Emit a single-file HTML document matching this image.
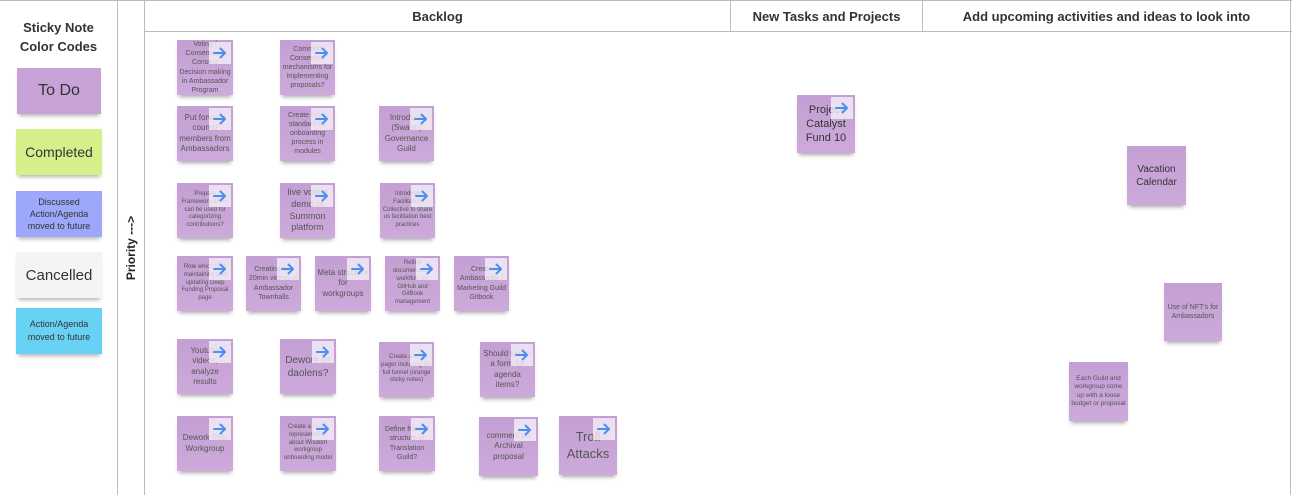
<!DOCTYPE html>
<html><head><meta charset="utf-8"><style>
body{margin:0;width:1292px;height:495px;background:#fff;position:relative;overflow:hidden;font-family:"Liberation Sans","DejaVu Sans",sans-serif;color:#333}
.l{position:absolute;background:#bbb}
.h{position:absolute;top:2px;height:30px;line-height:30px;text-align:center;font-weight:bold;font-size:13px;color:#333}
.n{position:absolute;background:linear-gradient(#c39fd3,#cdaadb);box-shadow:0 4px 4px -2px rgba(0,0,0,.35);display:flex;align-items:center;justify-content:center;text-align:center;font-size:7px;line-height:1.3;color:#555;padding:2px;box-sizing:border-box;overflow:hidden}
.a{position:absolute;top:2px;right:2px;width:22px;height:22px;background:rgba(245,240,248,.8)}
.a svg{position:absolute;left:3px;top:3px}
.g{position:absolute;display:flex;align-items:center;justify-content:center;text-align:center;box-shadow:0 4px 4px -2px rgba(0,0,0,.3);color:#333}
</style></head><body>
<svg width="0" height="0" style="position:absolute"><defs><symbol id="ar" viewBox="0 0 16 16"><path d="M2 8H13M8.5 3.5L13 8L8.5 12.5" stroke="#4a8ff0" stroke-width="2" fill="none" stroke-linecap="round" stroke-linejoin="round"/></symbol></defs></svg>
<div class="l" style="left:0;top:0;width:1292px;height:1px"></div>
<div class="l" style="left:117px;top:0;width:1px;height:495px"></div>
<div class="l" style="left:144px;top:0;width:1px;height:495px"></div>
<div class="l" style="left:1290px;top:0;width:1px;height:495px"></div>
<div class="l" style="left:144px;top:31px;width:1148px;height:1px"></div>
<div class="l" style="left:730px;top:0;width:1px;height:31px"></div>
<div class="l" style="left:922px;top:0;width:1px;height:31px"></div>
<div class="h" style="left:145px;width:585px">Backlog</div>
<div class="h" style="left:731px;width:191px">New Tasks and Projects</div>
<div class="h" style="left:923px;width:367px">Add upcoming activities and ideas to look into</div>
<div style="position:absolute;left:0;top:18px;width:117px;text-align:center;font-weight:bold;font-size:13px;line-height:19px;color:#333">Sticky Note<br>Color Codes</div>
<div style="position:absolute;left:131px;top:248px;transform:translate(-50%,-50%) rotate(-90deg);font-weight:bold;font-size:12px;white-space:nowrap;color:#222">Priority ---&gt;</div>
<div class="g" style="left:17px;top:68px;width:84px;height:46px;background:#c7a2d6;font-size:16px">To Do</div>
<div class="g" style="left:16px;top:129px;width:86px;height:46px;background:#d5f08a;font-size:14px">Completed</div>
<div class="g" style="left:16px;top:191px;width:86px;height:46px;background:#9ea8fa;font-size:9px;line-height:1.35">Discussed<br>Action/Agenda<br>moved to future</div>
<div class="g" style="left:16px;top:252px;width:86px;height:46px;background:#f4f4f6;font-size:15px">Cancelled</div>
<div class="g" style="left:16px;top:308px;width:86px;height:46px;background:#68d2f4;font-size:9px;line-height:1.4">Action/Agenda<br>moved to future</div>

<div class="n" style="left:177px;top:40px;width:56px;height:55px">Voting / Consensus / Consent Decision making in Ambassador Program<span class="a"><svg width="16" height="16"><use href="#ar"/></svg></span></div>
<div class="n" style="left:280px;top:40px;width:55px;height:55px">Common Consensus mechanisms for implementing proposals?<span class="a"><svg width="16" height="16"><use href="#ar"/></svg></span></div>
<div class="n" style="left:177px;top:106px;width:56px;height:55px;font-size:8px">Put forward council members from Ambassadors<span class="a"><svg width="16" height="16"><use href="#ar"/></svg></span></div>
<div class="n" style="left:280px;top:106px;width:55px;height:55px">Create more standard for onboarding process in modules<span class="a"><svg width="16" height="16"><use href="#ar"/></svg></span></div>
<div class="n" style="left:379px;top:106px;width:55px;height:55px;font-size:8px">Introduce (Swarm) Governance Guild<span class="a"><svg width="16" height="16"><use href="#ar"/></svg></span></div>
<div class="n" style="left:177px;top:183px;width:56px;height:55px;font-size:6px">Prepare Framework which can be used for categorizing contributions?<span class="a"><svg width="16" height="16"><use href="#ar"/></svg></span></div>
<div class="n" style="left:280px;top:183px;width:55px;height:55px;font-size:9px">live voting demo of Summon platform<span class="a"><svg width="16" height="16"><use href="#ar"/></svg></span></div>
<div class="n" style="left:380px;top:183px;width:55px;height:55px;font-size:6px">Introduce Facilitation Collective to share us facilitation best practices<span class="a"><svg width="16" height="16"><use href="#ar"/></svg></span></div>
<div class="n" style="left:177px;top:256px;width:56px;height:55px;font-size:6px">Role which help maintaining and updating Deep Funding Proposal page<span class="a"><svg width="16" height="16"><use href="#ar"/></svg></span></div>
<div class="n" style="left:246px;top:256px;width:55px;height:55px">Creating 10-20min videos of Ambassador Townhalls<span class="a"><svg width="16" height="16"><use href="#ar"/></svg></span></div>
<div class="n" style="left:315px;top:256px;width:56px;height:55px;font-size:8px">Meta structure for workgroups<span class="a"><svg width="16" height="16"><use href="#ar"/></svg></span></div>
<div class="n" style="left:385px;top:256px;width:55px;height:55px;font-size:6px">Refine documentation workflow for GitHub and GitBook management<span class="a"><svg width="16" height="16"><use href="#ar"/></svg></span></div>
<div class="n" style="left:454px;top:256px;width:55px;height:55px">Create Ambassador / Marketing Guild Gitbook<span class="a"><svg width="16" height="16"><use href="#ar"/></svg></span></div>
<div class="n" style="left:177px;top:339px;width:56px;height:55px;font-size:8px">Youtube videos, analyze results<span class="a"><svg width="16" height="16"><use href="#ar"/></svg></span></div>
<div class="n" style="left:280px;top:339px;width:56px;height:55px;font-size:10px">Dework or daolens?<span class="a"><svg width="16" height="16"><use href="#ar"/></svg></span></div>
<div class="n" style="left:379px;top:342px;width:55px;height:55px;font-size:6px">Create a one pager including the full funnel (orange sticky notes)<span class="a"><svg width="16" height="16"><use href="#ar"/></svg></span></div>
<div class="n" style="left:480px;top:342px;width:55px;height:55px;font-size:8px">Should we do a form for agenda items?<span class="a"><svg width="16" height="16"><use href="#ar"/></svg></span></div>
<div class="n" style="left:177px;top:416px;width:56px;height:55px;font-size:8px">Dework PBL Workgroup<span class="a"><svg width="16" height="16"><use href="#ar"/></svg></span></div>
<div class="n" style="left:280px;top:416px;width:56px;height:55px;font-size:6px">Create a visual representation about Wisdom workgroup onboarding model<span class="a"><svg width="16" height="16"><use href="#ar"/></svg></span></div>
<div class="n" style="left:379px;top:416px;width:56px;height:55px">Define frame / structure of Translation Guild?<span class="a"><svg width="16" height="16"><use href="#ar"/></svg></span></div>
<div class="n" style="left:479px;top:417px;width:59px;height:59px;font-size:8px">comment on Archival proposal<span class="a"><svg width="16" height="16"><use href="#ar"/></svg></span></div>
<div class="n" style="left:559px;top:416px;width:58px;height:59px;font-size:13px">Troll Attacks<span class="a"><svg width="16" height="16"><use href="#ar"/></svg></span></div>
<div class="n" style="left:797px;top:95px;width:58px;height:58px;font-size:11px;color:#333">Project Catalyst Fund 10<span class="a"><svg width="16" height="16"><use href="#ar"/></svg></span></div>
<div class="n" style="left:1127px;top:146px;width:59px;height:59px;font-size:10px;color:#333">Vacation Calendar</div>
<div class="n" style="left:1164px;top:283px;width:58px;height:58px">Use of NFT's for Ambassadors</div>
<div class="n" style="left:1069px;top:362px;width:59px;height:59px;font-size:6.5px">Each Guild and workgroup come up with a loose budget or proposal</div>
</body></html>
